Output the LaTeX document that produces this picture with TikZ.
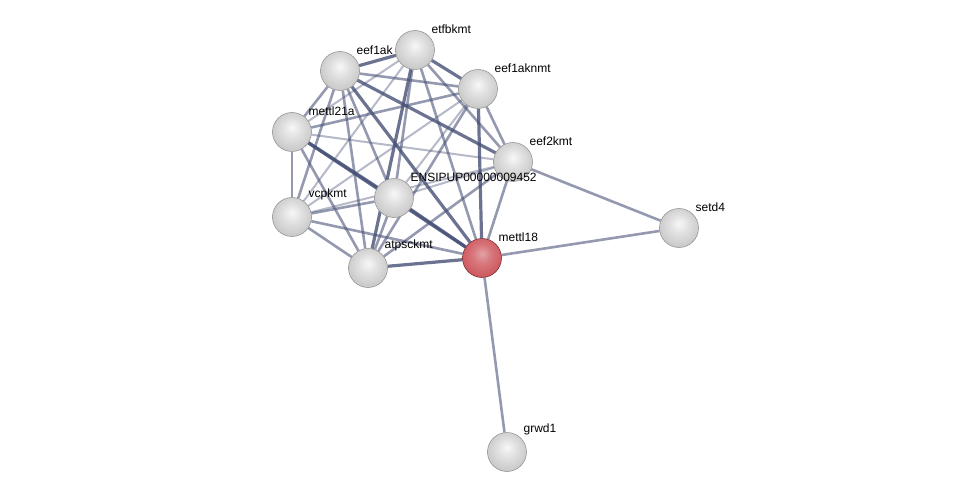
\documentclass[tikz,border=0pt]{standalone}
\usepackage{fontspec}
\setmainfont{Liberation Sans}
\usetikzlibrary{positioning,shadings,backgrounds}
\definecolor{edgecolor}{RGB}{70,80,118}
\definecolor{hitcolor}{RGB}{205,85,92}
\pgfdeclareradialshading{greyball}{\pgfpoint{0bp}{6bp}}{%
  color(0bp)=(black!3); color(12bp)=(black!12); color(28bp)=(black!22);
  color(40bp)=(black!38); color(47bp)=(black!52); color(50bp)=(black!60)}
\pgfdeclareradialshading{redball}{\pgfpoint{0bp}{6bp}}{%
  color(0bp)=(hitcolor!55); color(12bp)=(hitcolor!80); color(28bp)=(hitcolor);
  color(40bp)=(hitcolor!85!black); color(47bp)=(hitcolor!70!black); color(50bp)=(hitcolor!55!black)}

\begin{document}
\begin{tikzpicture}[x=1pt,y=-1pt,
    every label/.style={font=\fontsize{12}{14}\selectfont, inner sep=1pt, label distance=2pt},
    ]
\tikzset{
  prot/.style={circle, minimum size=39pt, inner sep=0pt, draw=black!45, line width=0.5pt, shading=greyball},
  query/.style={prot, draw=hitcolor!50!black, shading=redball},
  weak/.style={draw=edgecolor, line width=2pt, draw opacity=0.4},
  mid/.style={draw=edgecolor, line width=2.6pt, draw opacity=0.58},
  strong/.style={draw=edgecolor, line width=3.2pt, draw opacity=0.8},
}
\useasboundingbox (0,0) rectangle (975,497);

% proteins
\node [prot, label=45:eef1ak] (eef1ak) at (340,71) {};
\node [prot, label=45:etfbkmt] (etfbkmt) at (415,50) {};
\node [prot, label=45:eef1aknmt] (eef1aknmt) at (478,89) {};
\node [prot, label=45:mettl21a] (mettl21a) at (292,132) {};
\node [prot, label=45:eef2kmt] (eef2kmt) at (513,162) {};
\node [prot, label=45:ENSIPUP00000009452] (ensipup) at (394,198) {};
\node [prot, label=45:vcpkmt] (vcpkmt) at (292,217) {};
\node [prot, label=45:atpsckmt] (atpsckmt) at (368,268) {};
\node [query, label=45:mettl18] (mettl18) at (482,258) {};
\node [prot, label=45:setd4] (setd4) at (679,228) {};
\node [prot, label=45:grwd1] (grwd1) at (507,452) {};

% edges
\begin{scope}[on background layer]
\foreach \a/\b/\w in {eef1ak/etfbkmt/strong, eef1ak/eef1aknmt/mid, eef1ak/mettl21a/mid, eef1ak/eef2kmt/strong,
                      eef1ak/ensipup/mid, eef1ak/vcpkmt/mid, eef1ak/atpsckmt/mid, eef1ak/mettl18/strong,
                      etfbkmt/eef1aknmt/strong, etfbkmt/mettl21a/weak, etfbkmt/eef2kmt/mid, etfbkmt/ensipup/mid,
                      etfbkmt/vcpkmt/weak, etfbkmt/atpsckmt/strong, etfbkmt/mettl18/mid,
                      eef1aknmt/mettl21a/mid, eef1aknmt/eef2kmt/mid, eef1aknmt/ensipup/weak,
                      eef1aknmt/vcpkmt/weak, eef1aknmt/atpsckmt/mid, eef1aknmt/mettl18/strong,
                      mettl21a/eef2kmt/weak, mettl21a/ensipup/strong, mettl21a/vcpkmt/mid,
                      mettl21a/atpsckmt/mid, mettl21a/mettl18/strong,
                      eef2kmt/ensipup/weak, eef2kmt/vcpkmt/weak, eef2kmt/atpsckmt/mid,
                      eef2kmt/mettl18/mid, eef2kmt/setd4/mid,
                      ensipup/vcpkmt/mid, ensipup/atpsckmt/mid, ensipup/mettl18/strong,
                      vcpkmt/atpsckmt/mid, vcpkmt/mettl18/mid,
                      atpsckmt/mettl18/strong,
                      mettl18/setd4/mid, mettl18/grwd1/mid}
  \draw [\w] (\a) -- (\b);
\end{scope}

\end{tikzpicture}
\end{document}
